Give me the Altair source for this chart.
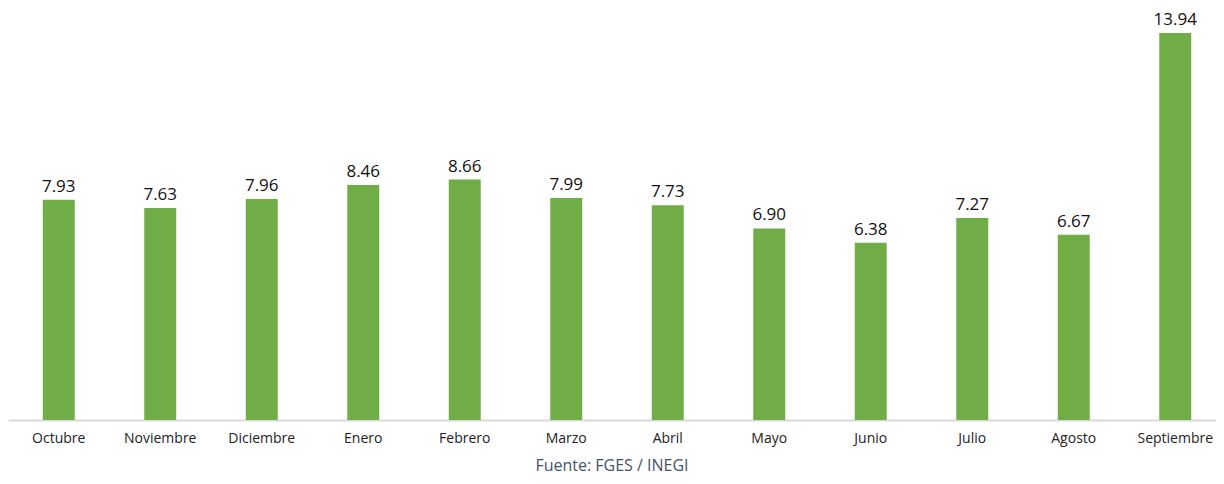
import altair as alt
import pandas as pd

months = ["Octubre", "Noviembre", "Diciembre", "Enero", "Febrero", "Marzo",
          "Abril", "Mayo", "Junio", "Julio", "Agosto", "Septiembre"]
values = [7.93, 7.63, 7.96, 8.46, 8.66, 7.99, 7.73, 6.90, 6.38, 7.27, 6.67, 13.94]
labels = [f"{v:.2f}" for v in values]

df = pd.DataFrame({"mes": months, "valor": values, "etiqueta": labels})

xscale = alt.Scale(paddingInner=0.685, paddingOuter=0.3425, range=[0, 1218])
x = alt.X("mes:N", sort=months, title=None, scale=xscale,
          axis=alt.Axis(labelAngle=0, ticks=False, domainColor="#d9d9d9", domainWidth=2,
                        labelFont="Open Sans", labelFontSize=14, labelColor="#222222",
                        labelPadding=11, grid=False))
y = alt.Y("valor:Q", title=None, scale=alt.Scale(domain=[0, 14.62], nice=False),
          axis=None)

bars = alt.Chart(df).mark_bar(color="#70AD47").encode(x=x, y=y)
text = alt.Chart(df).mark_text(baseline="bottom", dy=-4, font="Open Sans",
                               fontSize=17, color="#111111").encode(
    x=alt.X("mes:N", sort=months, scale=xscale), y="valor:Q", text="etiqueta:N")

chart = alt.layer(bars, text).properties(
    width=1208, height=406,
    autosize=alt.AutoSizeParams(type="none"),
    padding={"left": 0, "right": 0, "top": 6, "bottom": 56},
    title=alt.TitleParams("Fuente: FGES / INEGI", orient="bottom", anchor="middle",
                          font="Open Sans", fontSize=16, fontWeight="normal",
                          color="#44546A", offset=13)
).configure_view(strokeWidth=0)

chart.save("out.html", embed_options={"renderer": "svg", "actions": False})
